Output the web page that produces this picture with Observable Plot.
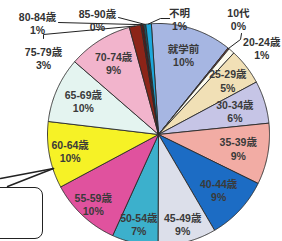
<!DOCTYPE html>
<html>
<head>
<meta charset="utf-8">
<script src="https://cdn.jsdelivr.net/npm/d3@7"></script>
<script src="https://cdn.jsdelivr.net/npm/@observablehq/plot@0.6"></script>
<style>
  html, body { margin: 0; padding: 0; background: #fff; overflow: hidden; }
  #wrap { position: relative; width: 282px; height: 241px; overflow: hidden; }
  #box { position: absolute; left: -10px; top: 187px; width: 53px; height: 52px;
         box-sizing: border-box; border: 1.5px solid #222; border-radius: 8px; }
</style>
</head>
<body>
<div id="wrap"><div id="box"></div></div>
<script>
// ---- data (clockwise from the top) ----
const names = ["就学前","10代","20-24歳","25-29歳","30-34歳","35-39歳","40-44歳","45-49歳","50-54歳","55-59歳","60-64歳","65-69歳","70-74歳","75-79歳","80-84歳","85-90歳","不明"];
const shares = [11.8,0.2,0.9,5.3,6.2,8.9,9.3,8.5,6.7,10.4,9.7,9.5,9.4,1.7,0.4,0.3,0.8];
const pctLabels = [10,0,1,5,6,9,9,9,7,10,10,10,9,3,1,0,1];
const sliceColors = ["#a6b6e2","#7a3a30","#fdfbee","#f1e0b6","#c6c5e6","#f2aca4","#1c6cc4","#dcdfea","#3cb0cc","#e0529e","#f6f226","#e4f4f0","#f2b4cc","#8c2418","#4a1c1c","#1a5a6a","#1ca8dc"];

// ---- layout ----
const startDeg = -3.7;
const insideR = {"就学前":0.75,"25-29歳":0.79,"30-34歳":0.72,"35-39歳":0.73,"40-44歳":0.74,"45-49歳":0.84,"50-54歳":0.83,"55-59歳":0.86,"60-64歳":0.81,"65-69歳":0.74,"70-74歳":0.76};
const outsidePos = {"75-79歳":[-1.036,0.689],"80-84歳":[-1.09,1.005],"85-90歳":[-0.55,1.027],"不明":[0.19,1.036],"10代":[0.72,1.036],"20-24歳":[0.93,0.779]};
const leaderPts = {
  "75-79歳": [[-1.036,0.865],[-1.036,0.901]],
  "80-84歳": [[-0.901,1.009]],
  "85-90歳": [[-0.36,1.054]],
  "不明": [[0.10,1.045],[0.018,1.045]],
  "10代": [[0.748,0.91],[0.739,0.856]]
};
const calloutLines = [
  [[-1.423,-0.396],[-0.946,-0.306]],
  [[-1.360,-0.468],[-0.946,-0.306]]
];

const total = d3.sum(shares);
const rad = d => d * Math.PI / 180;
let cum = 0;
const slices = names.map((name, i) => {
  const a0 = rad(startDeg + cum / total * 360);
  cum += shares[i];
  const a1 = rad(startDeg + cum / total * 360);
  return {name, a0, a1, mid: (a0 + a1) / 2, pct: pctLabels[i]};
});

const poly = [];
slices.forEach(s => {
  poly.push({key: s.name, x: 0, y: 0});
  const n = Math.max(2, Math.ceil((s.a1 - s.a0) / rad(0.5)));
  for (let k = 0; k <= n; k++) {
    const a = s.a0 + (s.a1 - s.a0) * k / n;
    poly.push({key: s.name, x: Math.sin(a), y: Math.cos(a)});
  }
  poly.push({key: s.name, x: 0, y: 0});
});

const inside = slices.filter(s => insideR[s.name] != null).map(s => ({
  text: `${s.name}\n${s.pct}%`,
  x: insideR[s.name] * Math.sin(s.mid),
  y: insideR[s.name] * Math.cos(s.mid)
}));
const outside = slices.filter(s => outsidePos[s.name]).map(s => ({
  text: `${s.name}\n${s.pct}%`, x: outsidePos[s.name][0], y: outsidePos[s.name][1]
}));

const leaders = [];
slices.forEach(s => {
  const pts = leaderPts[s.name];
  if (!pts) return;
  pts.forEach(p => leaders.push({id: s.name, x: p[0], y: p[1]}));
  leaders.push({id: s.name, x: Math.sin(s.mid), y: Math.cos(s.mid)});
});
const callouts = [];
calloutLines.forEach((ln, j) => ln.forEach(p => callouts.push({id: j, x: p[0], y: p[1]})));

const font = "'Liberation Sans', 'Noto Sans CJK JP', sans-serif";
const chart = Plot.plot({
  width: 282, height: 241, margin: 0,
  style: {background: "transparent", fontFamily: font},
  x: {domain: [-1, 1], range: [47, 269], axis: null},
  y: {domain: [-1, 1], range: [245, 23], axis: null},
  color: {domain: names, range: sliceColors},
  marks: [
    Plot.line(poly, {x: "x", y: "y", z: "key", fill: "key", stroke: "#2a2a2a", strokeWidth: 0.9, strokeLinejoin: "round"}),
    Plot.line(leaders, {x: "x", y: "y", z: "id", stroke: "#222", strokeWidth: 1}),
    Plot.line(callouts, {x: "x", y: "y", z: "id", stroke: "#222", strokeWidth: 1.5}),
    Plot.text(inside, {x: "x", y: "y", text: "text", fill: "#3a3a3a", fontSize: 10.5, fontWeight: "bold", fontFamily: font, lineAnchor: "middle", lineHeight: 1.25}),
    Plot.text(outside, {x: "x", y: "y", text: "text", fill: "#333", fontSize: 10.5, fontWeight: "bold", fontFamily: font, lineAnchor: "middle", lineHeight: 1.25})
  ]
});
document.getElementById("wrap").prepend(chart);
</script>
</body>
</html>
